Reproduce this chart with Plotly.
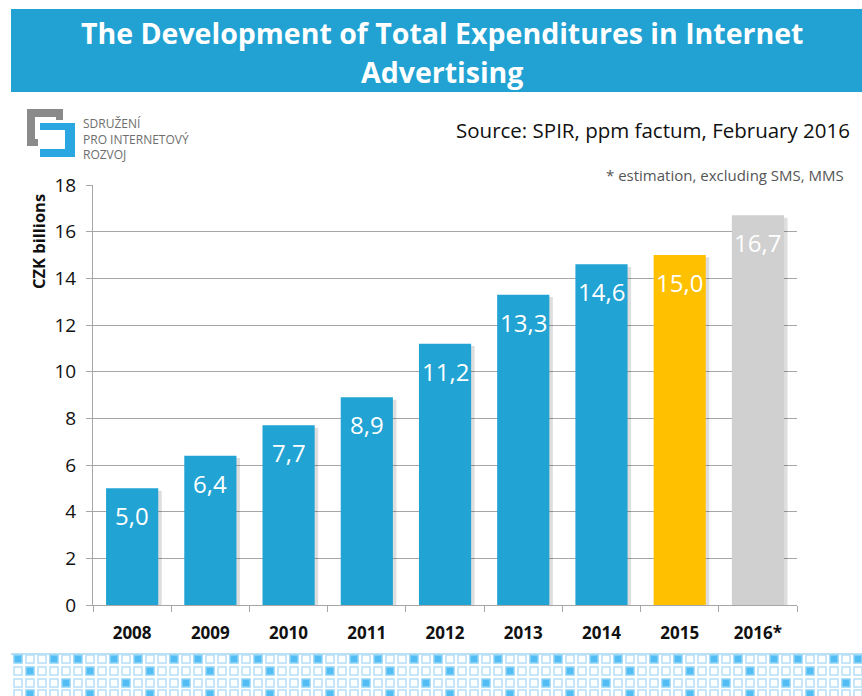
import plotly.graph_objects as go

years = ["2008", "2009", "2010", "2011", "2012", "2013", "2014", "2015", "2016*"]
values = [5.0, 6.4, 7.7, 8.9, 11.2, 13.3, 14.6, 15.0, 16.7]
labels = ["5,0", "6,4", "7,7", "8,9", "11,2", "13,3", "14,6", "15,0", "16,7"]
colors = ["#21A3D3"] * 7 + ["#FFC000", "#D0D0D0"]
yticks = [0, 2, 4, 6, 8, 10, 12, 14, 16, 18]

W, H = 862, 696
L, R, T, B = 93, 65, 185, 91
PW, PH = W - L - R, H - T - B


def px(x):
    return (x - L) / PW


def py(y):
    return 1 - (y - T) / PH


fig = go.Figure()

# shadow
fig.add_trace(go.Bar(
    x=years, y=[v - 0.1 for v in values], width=0.667, offset=-0.333 + 0.045,
    marker=dict(color="rgba(0,0,0,0.13)", line=dict(width=0)),
    hoverinfo="skip", showlegend=False))

fig.add_trace(go.Bar(
    x=years, y=values, width=0.667, offset=-0.333,
    marker=dict(color=colors, line=dict(width=0)),
    showlegend=False))

for i, (v, lab) in enumerate(zip(values, labels)):
    fig.add_annotation(x=i, y=v, xref="x", yref="y", text=lab, showarrow=False,
                       yanchor="top", yshift=-9,
                       font=dict(family="Open Sans", size=24, color="white"))

shapes = []
# title banner
shapes.append(dict(type="rect", xref="paper", yref="paper", x0=px(11), x1=px(870),
                   y0=py(92), y1=py(9), fillcolor="#21A2D2", line=dict(width=0), layer="below"))

# logo
def rect(x0, y0, x1, y1, c):
    shapes.append(dict(type="rect", xref="paper", yref="paper", x0=px(x0), x1=px(x1),
                       y0=py(y1), y1=py(y0), fillcolor=c, line=dict(width=0)))

g, bl = "#8A8A8A", "#2AA7E0"
rect(27, 109, 63, 117, g)
rect(27, 109, 35, 146, g)
rect(27, 139, 38, 146, g)
rect(56, 109, 63, 120, g)
rect(40, 123, 75, 130, bl)
rect(65, 123, 75, 157, bl)
rect(40, 149, 75, 157, bl)

# bottom decorative line
shapes.append(dict(type="line", xref="paper", yref="paper", x0=px(11), x1=px(870),
                   y0=py(654), y1=py(654), line=dict(color="#A8D8F2", width=1.5)))
# squares pattern
rows = [(659, (0, 3)), (671, (1,)), (683, (4,)), (694, (1,))]
for yc, filled in rows:
    for c in range(71):
        xc = 18 + 12 * c
        f = (c % 5) in filled
        shapes.append(dict(type="rect", xref="paper", yref="paper",
                           x0=px(xc - 4), x1=px(xc + 4), y0=py(yc + 4), y1=py(yc - 4),
                           fillcolor="#52BDF2" if f else "white",
                           line=dict(color="#B5E0F7" if not f else "#8FD3F6", width=1.5)))

ann = [
    dict(text="<b>The Development of Total Expenditures in Internet</b>", x=px(442), y=py(33),
         font=dict(family="Open Sans", size=28.5, color="white")),
    dict(text="<b>Advertising</b>", x=px(442), y=py(72),
         font=dict(family="Open Sans", size=28.5, color="white")),
]
for a in ann:
    fig.add_annotation(xref="paper", yref="paper", showarrow=False, xanchor="center",
                       yanchor="middle", **a)

fig.add_annotation(xref="paper", yref="paper", x=px(81), y=py(139), showarrow=False,
                   xanchor="left", yanchor="middle", align="left",
                   text="SDRUŽENÍ<br>PRO INTERNETOVÝ<br>ROZVOJ",
                   font=dict(family="Open Sans", size=12, color="#6E6E6E"))
fig.add_annotation(xref="paper", yref="paper", x=px(852), y=py(130), showarrow=False,
                   xanchor="right", yanchor="middle",
                   text="Source: SPIR, ppm factum, February 2016",
                   font=dict(family="Open Sans", size=20.5, color="#111"))
fig.add_annotation(xref="paper", yref="paper", x=px(846), y=py(175), showarrow=False,
                   xanchor="right", yanchor="middle",
                   text="* estimation, excluding SMS, MMS",
                   font=dict(family="Open Sans", size=15, color="#555"))
fig.add_annotation(xref="paper", yref="paper", x=px(38), y=py(242), showarrow=False,
                   textangle=-90, xanchor="center", yanchor="middle",
                   text="<b>CZK billions</b>",
                   font=dict(family="Open Sans", size=16.5, color="#111"))

fig.update_layout(
    width=W, height=H, margin=dict(l=L, r=R, t=T, b=B),
    paper_bgcolor="white", plot_bgcolor="white",
    barmode="overlay", shapes=shapes,
    xaxis=dict(type="category", tickson="boundaries", ticks="outside", ticklen=6,
               tickcolor="#A6A6A6", showline=True, linecolor="#A6A6A6", linewidth=1.2,
               showgrid=False, ticklabelstandoff=12,
               tickfont=dict(family="Open Sans", size=17, color="#111", weight="bold"),
               range=[-0.5, 8.5]),
    yaxis=dict(range=[0, 18], tickvals=yticks, showgrid=True, gridcolor="#A6A6A6",
               gridwidth=1, ticks="outside", ticklen=6, tickcolor="#A6A6A6",
               showline=True, linecolor="#A6A6A6", zeroline=False, ticklabelstandoff=6,
               tickfont=dict(family="Open Sans", size=19, color="#111")),
)

fig.write_html("out.html", post_script="document.body.style.margin='0px';",
               config={"displayModeBar": False})
